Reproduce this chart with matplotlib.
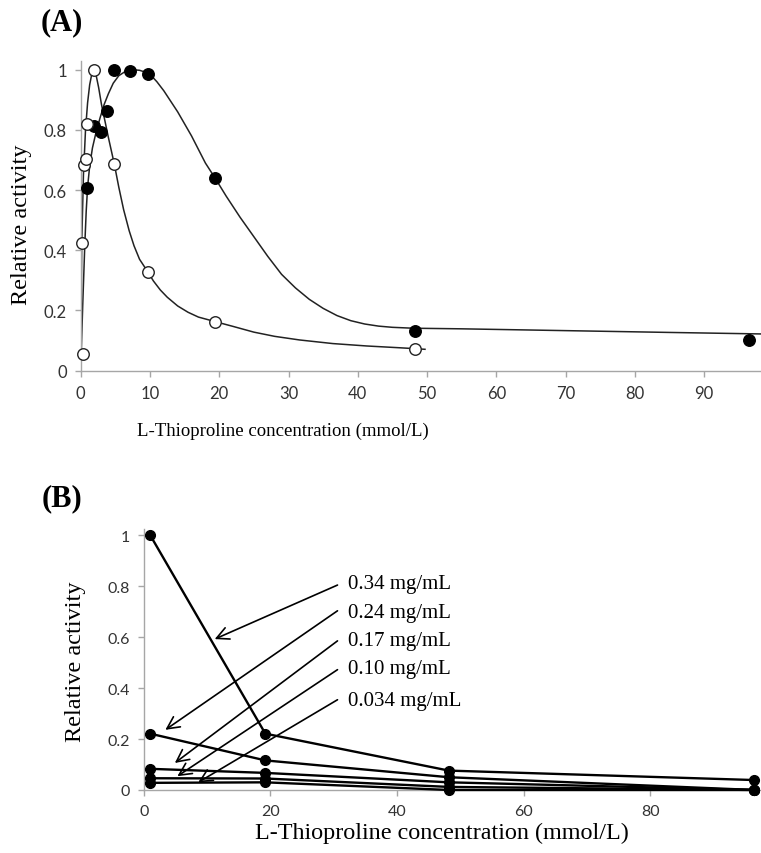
import matplotlib
matplotlib.use("Agg")
import matplotlib.pyplot as plt

# ---- panel A: measured points ----
filled_x = [0.97, 1.99, 2.91, 3.79, 4.76, 7.18, 9.7, 19.4, 48.3, 96.5]
filled_y = [0.606, 0.814, 0.792, 0.864, 0.998, 0.997, 0.986, 0.64, 0.133, 0.103]

open_x = [0.29, 0.15, 0.49, 0.73, 0.87, 1.9, 4.85, 9.7, 19.4, 48.3]
open_y = [0.055, 0.424, 0.684, 0.703, 0.82, 1.0, 0.687, 0.328, 0.163, 0.073]

# fitted curves
fit_filled_x = [0, 0.3, 0.6, 0.8, 1.0, 1.3, 1.7, 2.2, 2.8, 3.4, 4.0, 4.7, 5.5, 6.5,
                7.5, 8.5, 9.3, 10, 11, 12, 13, 14, 15, 16, 17, 18, 19.4, 21, 23,
                25, 27, 29, 31, 33, 35, 37, 39, 41, 43, 45, 48, 55, 65, 75, 85, 98.2]
fit_filled_y = [0, 0.22, 0.42, 0.53, 0.61, 0.68, 0.74, 0.79, 0.84, 0.885, 0.92, 0.955,
                0.98, 0.995, 1.0, 0.998, 0.992, 0.985, 0.96, 0.93, 0.895, 0.86, 0.82,
                0.78, 0.735, 0.69, 0.64, 0.58, 0.51, 0.445, 0.38, 0.32, 0.275, 0.237,
                0.207, 0.183, 0.166, 0.155, 0.148, 0.144, 0.141, 0.139, 0.135, 0.131,
                0.127, 0.122]

fit_open_x = [0, 0.15, 0.4, 0.7, 1.0, 1.3, 1.6, 1.9, 2.2, 2.6, 3.0, 3.5, 4.0, 4.85,
              5.5, 6.2, 7.0, 7.7, 8.5, 9.7, 10.5, 11.5, 12.5, 14, 15.5, 17, 19.4, 22,
              25, 28, 31.6, 36.4, 41.3, 46.1, 48.3, 49.7]
fit_open_y = [0, 0.42, 0.65, 0.80, 0.89, 0.95, 0.985, 1.0, 0.985, 0.94, 0.885, 0.83,
              0.775, 0.687, 0.61, 0.535, 0.465, 0.415, 0.37, 0.328, 0.298, 0.268,
              0.244, 0.215, 0.194, 0.178, 0.163, 0.147, 0.128, 0.114, 0.102, 0.09,
              0.082, 0.076, 0.073, 0.071]

# ---- panel B ----
conc_b = [1.0, 19.2, 48.2, 96.4]
labels_b = ["0.34 mg/mL", "0.24 mg/mL", "0.17 mg/mL", "0.10 mg/mL", "0.034 mg/mL"]
act_b = [
    [1.0, 0.221, 0.076, 0.039],
    [0.221, 0.116, 0.05, 0.0],
    [0.083, 0.067, 0.03, 0.0],
    [0.046, 0.045, 0.012, 0.0],
    [0.028, 0.03, 0.0, 0.0],
]

yticks = [0, 0.2, 0.4, 0.6, 0.8, 1]
ytick_labels = ["0", "0.2", "0.4", "0.6", "0.8", "1"]

serif = "Liberation Serif"
tickfont = "Lato"
grey = "#a6a6a6"

fig = plt.figure(figsize=(7.61, 8.54), dpi=100)


def style_axes(ax, size):
    for s in ["top", "right"]:
        ax.spines[s].set_visible(False)
    for s in ["left", "bottom"]:
        ax.spines[s].set_color(grey)
        ax.spines[s].set_linewidth(1.0)
    ax.tick_params(direction="out", length=4, width=1, color=grey,
                   labelsize=size, labelcolor="#333333", pad=6)
    for lab in ax.get_xticklabels() + ax.get_yticklabels():
        lab.set_family(tickfont)


# panel A
axA = fig.add_axes([0.106, 0.5648, 0.894, 0.363])
axA.plot(fit_filled_x, fit_filled_y, color="#222222", lw=1.1, zorder=2)
axA.plot(fit_open_x, fit_open_y, color="#222222", lw=1.1, zorder=2)
axA.plot(filled_x, filled_y, "o", ms=8.3, mfc="black", mec="black", zorder=3, clip_on=False)
axA.plot(open_x, open_y, "o", ms=8.3, mfc="white", mec="#222222", mew=1.0, zorder=3, clip_on=False)
axA.set_xlim(0, 98.2)
axA.set_ylim(0, 1.03)
axA.set_xticks(range(0, 100, 10))
axA.set_yticks(yticks)
axA.set_yticklabels(ytick_labels)
style_axes(axA, 12)

fig.text(62 / 761, 1 - 23 / 854, "(A)", family=serif, weight="bold", fontsize=22,
         ha="center", va="center")
fig.text(22 / 761, 1 - 225 / 854, "Relative activity", family=serif, fontsize=17.5,
         rotation=90, ha="center", va="center")
fig.text(283 / 761, 1 - 431 / 854, "L-Thioproline concentration (mmol/L)", family=serif,
         fontsize=13.5, ha="center", va="center")

# panel B
axB = fig.add_axes([0.189, 0.0738, 0.81, 0.3056])
for ys in act_b:
    axB.plot(conc_b, ys, "-o", color="black", lw=1.7, ms=7, clip_on=False, zorder=3)
axB.set_xlim(0, 97.4)
axB.set_ylim(0, 1.024)
axB.set_xticks([0, 20, 40, 60, 80])
axB.set_yticks(yticks)
axB.set_yticklabels(ytick_labels)
style_axes(axB, 11.5)

# label positions and arrow heads (layout)
text_y = [0.812, 0.698, 0.588, 0.478, 0.353]
tail_y = [0.804, 0.703, 0.585, 0.472, 0.354]
heads = [(11.2, 0.592), (3.4, 0.236), (4.9, 0.106), (5.3, 0.054), (8.6, 0.030)]
for lab, ty, tl, hd in zip(labels_b, text_y, tail_y, heads):
    axB.text(32.2, ty, lab, family=serif, fontsize=15, ha="left", va="center")
    axB.annotate("", xy=hd, xytext=(30.6, tl),
                 arrowprops=dict(arrowstyle="->", color="black", lw=1.2,
                                 mutation_scale=22, shrinkA=0, shrinkB=0))

fig.text(62 / 761, 1 - 499 / 854, "(B)", family=serif, weight="bold", fontsize=22,
         ha="center", va="center")
fig.text(76 / 761, 1 - 662 / 854, "Relative activity", family=serif, fontsize=17.5,
         rotation=90, ha="center", va="center")
fig.text(442 / 761, 1 - 833 / 854, "L-Thioproline concentration (mmol/L)", family=serif,
         fontsize=17.4, ha="center", va="center")

fig.savefig("out.png", dpi=100)
